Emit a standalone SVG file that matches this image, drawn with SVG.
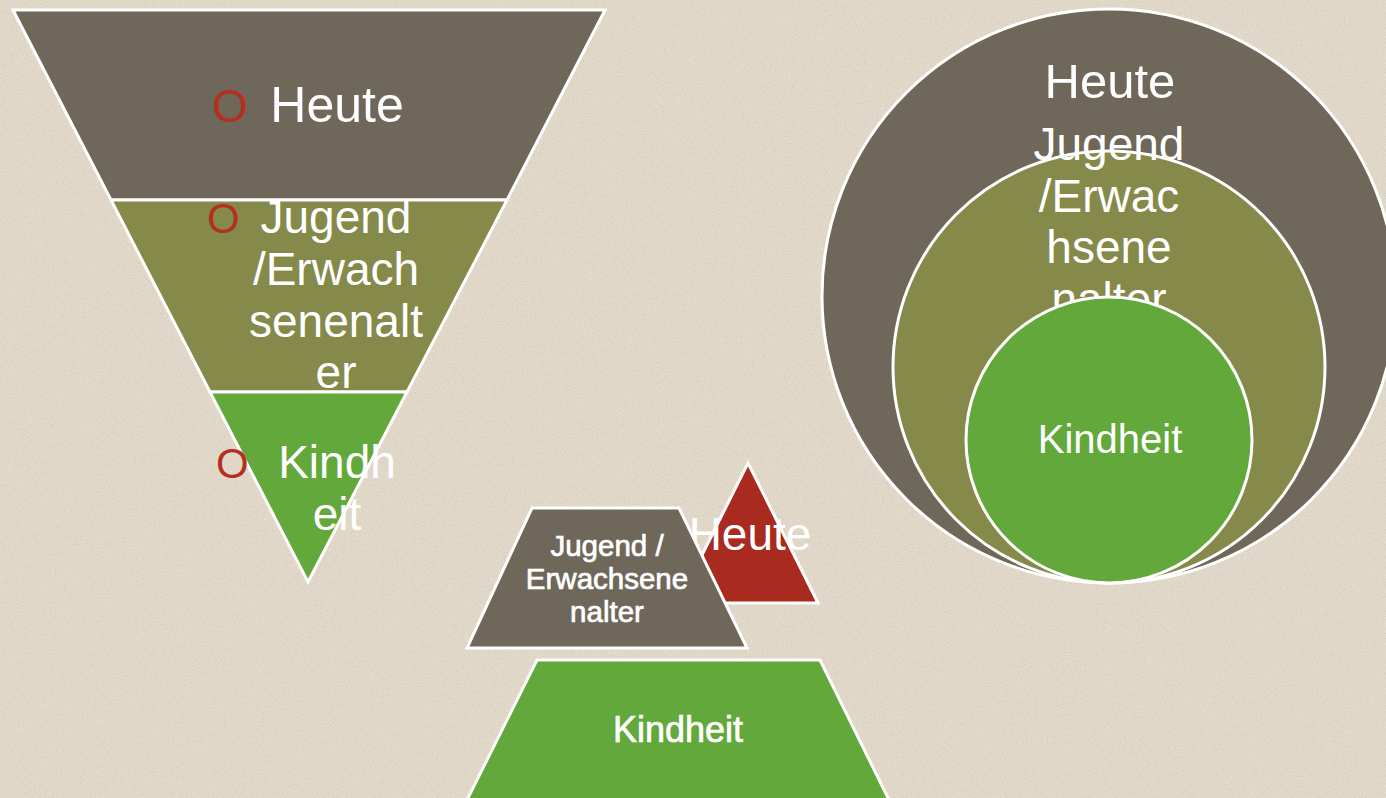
<svg xmlns="http://www.w3.org/2000/svg" width="1386" height="798" viewBox="0 0 1386 798">
<defs>
<filter id="noise" x="0" y="0" width="100%" height="100%">
<feTurbulence type="fractalNoise" baseFrequency="0.9" numOctaves="2" seed="3" result="t"/>
<feColorMatrix in="t" type="matrix" values="0 0 0 0 0.45  0 0 0 0 0.42  0 0 0 0 0.37  0 0 0 -2.2 1.25"/>
</filter>
</defs>
<style>
.shape{stroke:#ffffff;stroke-width:3;stroke-linejoin:miter}
.brown{fill:#6e675a}
.olive{fill:#858a4b}
.green{fill:#63a83b}
.red{fill:#a92a1f}
.t{font-family:"Liberation Sans",Arial,sans-serif;fill:#ffffff;text-anchor:middle}
.m{stroke:#ffffff;stroke-width:0.7}
.b{font-family:"Liberation Sans",Arial,sans-serif;fill:#b3301f;text-anchor:start}
</style>
<rect width="1386" height="798" fill="#e3dacb"/>
<rect width="1386" height="798" filter="url(#noise)" opacity="0.35"/>

<g id="funnel-heute">
<polygon class="shape brown" points="13,10 605,10 507,200 111,200"/>
<text class="b" x="212" y="122" font-size="46">O</text>
<text class="t" x="337" y="122" font-size="50">Heute</text>
</g>
<g id="funnel-jugend">
<polygon class="shape olive" points="111,200 507,200 407,392 210,392"/>
<text class="b" x="207" y="233" font-size="42">O</text>
<text class="t" font-size="46"><tspan x="336" y="233">Jugend</tspan><tspan x="336" y="285">/Erwach</tspan><tspan x="336" y="337">senenalt</tspan><tspan x="336" y="388">er</tspan></text>
</g>
<g id="funnel-kindheit">
<polygon class="shape green" points="210,392 407,392 308,582"/>
<text class="b" x="216" y="478" font-size="42">O</text>
<text class="t" font-size="46"><tspan x="337" y="478">Kindh</tspan><tspan x="337" y="530">eit</tspan></text>
</g>

<g id="circle-heute">
<circle class="shape brown" cx="1109" cy="296" r="287"/>
<text class="t" x="1110" y="98" font-size="49">Heute</text>
</g>
<g id="circle-jugend">
<circle class="shape olive" cx="1109" cy="367" r="216"/>
<text class="t" font-size="46"><tspan x="1109" y="160">Jugend</tspan><tspan x="1109" y="212">/Erwac</tspan><tspan x="1109" y="263">hsene</tspan><tspan x="1109" y="315">nalter</tspan></text>
</g>
<g id="circle-kindheit">
<circle class="shape green" cx="1109" cy="440" r="143"/>
<text class="t" x="1110" y="453" font-size="40">Kindheit</text>
</g>

<g id="pyramid-heute">
<polygon class="shape red" points="748,463 818,603 678,603"/>
<text class="t" x="750" y="550" font-size="46">Heute</text>
</g>
<g id="pyramid-jugend">
<polygon class="shape brown" points="532,508 679,508 747,648 467,648"/>
<text class="t m" font-size="29.5"><tspan x="607" y="556">Jugend /</tspan><tspan x="607" y="589">Erwachsene</tspan><tspan x="607" y="622">nalter</tspan></text>
</g>
<g id="pyramid-kindheit">
<polygon class="shape green" points="537,660 820,660 890,802 466,802"/>
<text class="t m" x="678" y="742" font-size="36">Kindheit</text>
</g>
<g id="connectors"/>
</svg>
